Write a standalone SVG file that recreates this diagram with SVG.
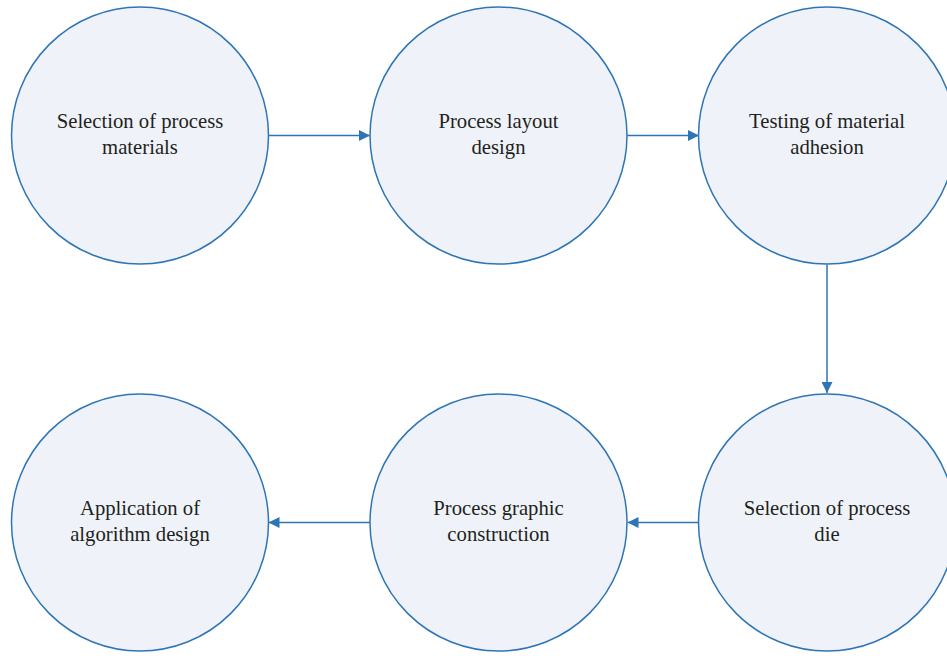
<svg xmlns="http://www.w3.org/2000/svg" width="947" height="656" viewBox="0 0 947 656">
<defs>
<style>
.node circle{fill:#eff3f9;stroke:#2e75b6;stroke-width:1.5}
.node text{font-family:"Liberation Serif","Times New Roman",serif;font-size:20.7px;fill:#231f20;text-anchor:middle}
.conn line{stroke:#2e75b6;stroke-width:1.5}
</style>
<marker id="ah" viewBox="0 0 11 11" refX="11" refY="5.5" markerWidth="11" markerHeight="11" markerUnits="userSpaceOnUse" orient="auto">
<path d="M0,0 L11,5.5 L0,11 Z" fill="#2e75b6"/>
</marker>
</defs>
<rect width="947" height="656" fill="#ffffff"/>
<g id="connectors" class="conn">
<line x1="268" y1="135.5" x2="370" y2="135.5" marker-end="url(#ah)"/>
<line x1="627" y1="135.5" x2="699" y2="135.5" marker-end="url(#ah)"/>
<line x1="827" y1="264.5" x2="827" y2="393" marker-end="url(#ah)"/>
<line x1="699" y1="522.5" x2="627.5" y2="522.5" marker-end="url(#ah)"/>
<line x1="370" y1="522.5" x2="268.5" y2="522.5" marker-end="url(#ah)"/>
</g>
<g id="n1" class="node">
<circle cx="140" cy="135.5" r="128.5"/>
<text x="140" y="128">Selection of process</text>
<text x="140" y="153.5">materials</text>
</g>
<g id="n2" class="node">
<circle cx="498.5" cy="135.5" r="128.5"/>
<text x="498.5" y="128">Process layout</text>
<text x="498.5" y="153.5">design</text>
</g>
<g id="n3" class="node">
<circle cx="827" cy="135.5" r="128.5"/>
<text x="827" y="128">Testing of material</text>
<text x="827" y="153.5">adhesion</text>
</g>
<g id="n4" class="node">
<circle cx="827" cy="522.5" r="128.5"/>
<text x="827" y="515">Selection of process</text>
<text x="827" y="540.5">die</text>
</g>
<g id="n5" class="node">
<circle cx="498.5" cy="522.5" r="128.5"/>
<text x="498.5" y="515">Process graphic</text>
<text x="498.5" y="540.5">construction</text>
</g>
<g id="n6" class="node">
<circle cx="140" cy="522.5" r="128.5"/>
<text x="140" y="515">Application of</text>
<text x="140" y="540.5">algorithm design</text>
</g>
</svg>
